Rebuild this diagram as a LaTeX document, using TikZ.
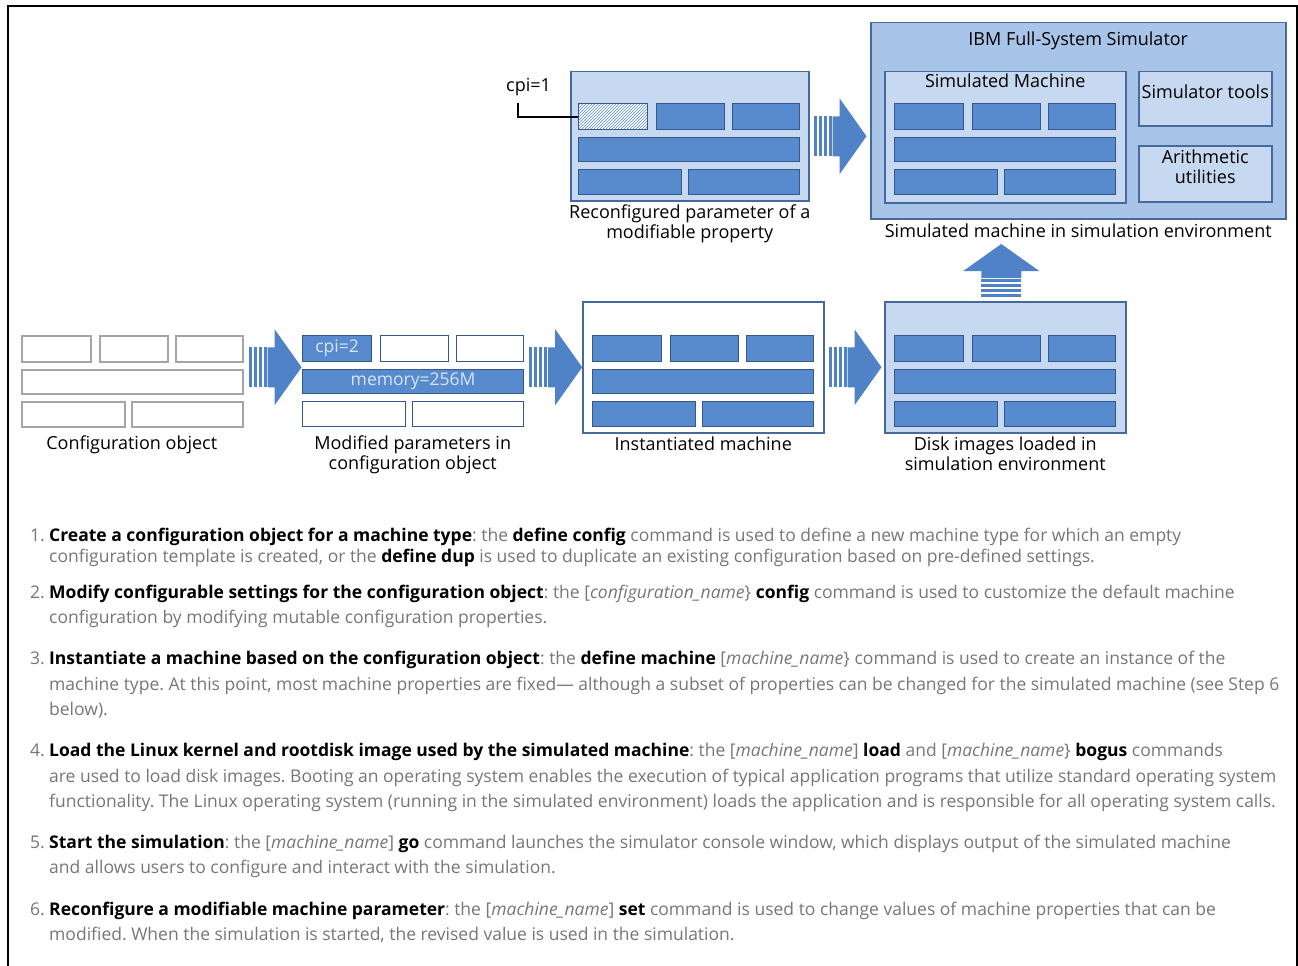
\documentclass[tikz,border=0pt]{standalone}
\usepackage{fontspec}
\setmainfont{Open Sans}
\usepackage{tikz}
\usetikzlibrary{positioning,calc,patterns}
\definecolor{blockblue}{RGB}{88,139,205}
\definecolor{blockline}{RGB}{52,88,140}
\definecolor{boxline}{RGB}{72,105,155}
\definecolor{lightfill}{RGB}{198,217,240}
\definecolor{ibmfill}{RGB}{168,196,232}
\definecolor{arrowblue}{RGB}{80,130,200}
\definecolor{cfggray}{RGB}{165,165,165}
\definecolor{bodygray}{RGB}{118,118,118}
\definecolor{celltext}{RGB}{215,228,245}
\tikzset{
  blk/.style={draw=blockline,fill=blockblue,line width=1.2pt,inner sep=0pt,anchor=north west},
  wblk/.style={blk,fill=white},
  gblk/.style={blk,draw=cfggray,fill=white,line width=1.6pt},
  hblk/.style={draw=blockline,line width=1.2pt,inner sep=0pt,anchor=north west,
    preaction={fill=white},pattern=north east lines,pattern color=blockblue},
  outerbox/.style={draw=boxline,line width=1.5pt,inner sep=0pt,anchor=north west},
  ghost/.style={inner sep=0pt,anchor=north west},
  captxt/.style={font=\fontsize{18}{20}\selectfont,align=center,inner sep=0pt},
  celllbl/.style={font=\fontsize{17.5}{20}\selectfont,text=celltext,inner sep=0pt},
  body/.style={font=\fontsize{17.5}{20}\selectfont,text=bodygray,anchor=base west,inner sep=0pt},
  num/.style={body,anchor=base east},
}
% six cells of a machine: prefix, x, y, then one style per cell
\newcommand{\machineblocks}[9]{%
  \node[#4,minimum width=69,minimum height=26] (#1a) at (#2,#3) {};
  \node[#5,minimum width=68,minimum height=26] (#1b) at (#2+78,#3) {};
  \node[#6,minimum width=67,minimum height=26] (#1c) at (#2+154,#3) {};
  \node[#7,minimum width=221,minimum height=24] (#1d) at (#2,#3+34) {};
  \node[#8,minimum width=103,minimum height=25] (#1e) at (#2,#3+66) {};
  \node[#9,minimum width=111,minimum height=25] (#1f) at (#2+110,#3+66) {};
}
% striped block arrow: start point, rotation
\newcommand{\fatarrow}[2]{%
  \begin{scope}[shift={#1},rotate=#2]
    \foreach \s in {0,5,10,15}
      \fill[arrowblue] (\s,-20) rectangle ++(3,40);
    \fill[arrowblue] (19,-20) -- (26,-20) -- (26,-38) -- (53,0)
      -- (26,38) -- (26,20) -- (19,20) -- cycle;
  \end{scope}}
\newcommand{\cmd}[1]{\textcolor{black}{\bfseries #1}}
\newcommand{\mname}{\textit{machine\_name}}
\frenchspacing

\begin{document}
\begin{tikzpicture}[x=1pt,y=-1pt]
\useasboundingbox (0,0) rectangle (1298,966);
\draw[line width=2.5pt] (8,6) rectangle (1297,980);

% reconfigured machine
\node[outerbox,fill=lightfill,minimum width=238,minimum height=129] (recfg) at (570,71) {};
\machineblocks{r}{578}{103}{hblk}{blk}{blk}{blk}{blk}{blk}
\node[captxt,anchor=base west] (cpi) at (506,92) {cpi=1};
\draw[line width=1.8pt] ([xshift=12pt,yshift=-6pt]cpi.south west) |- (ra.west);
\node[captxt,below=3pt of recfg] {Reconfigured parameter of a\\modifiable property};

% simulator
\node[outerbox,fill=ibmfill,minimum width=415,minimum height=196] (ibm) at (870,22) {};
\node[captxt] (ibmtitle) at ($(ibm.north)+(0,19)$) {IBM Full-System Simulator};
\node[outerbox,fill=lightfill,minimum width=241,minimum height=131] (simm) at (884,71) {};
\node[captxt] (simmtitle) at ($(simm.north)+(0,10)$) {Simulated Machine};
\machineblocks{s}{894}{103}{blk}{blk}{blk}{blk}{blk}{blk}
\node[outerbox,fill=lightfill,minimum width=133,minimum height=54,captxt,text depth=14pt] (tools) at (1138,71) {Simulator tools};
\node[outerbox,fill=lightfill,minimum width=133,minimum height=56,captxt,text depth=14pt] (arith) at (1138,145) {Arithmetic\\utilities};
\node[captxt,below=4pt of ibm] {Simulated machine in simulation environment};

% bottom row
\node[ghost,minimum width=241,minimum height=131] (cfg) at (11,301) {};
\machineblocks{c}{21}{335}{gblk}{gblk}{gblk}{gblk}{gblk}{gblk}
\node[captxt,below=3pt of cfg] {Configuration object};

\node[ghost,minimum width=241,minimum height=131] (mod) at (292,301) {};
\machineblocks{m}{302}{335}{blk}{wblk}{wblk}{blk}{wblk}{wblk}
\node[celllbl] at (ma) {cpi=2};
\node[celllbl] at (md) {memory=256M};
\node[captxt,below=3pt of mod] {Modified parameters in\\configuration object};

\node[outerbox,fill=white,minimum width=241,minimum height=131] (inst) at (582,301) {};
\machineblocks{i}{592}{335}{blk}{blk}{blk}{blk}{blk}{blk}
\node[captxt,below=3pt of inst] {Instantiated machine};

\node[outerbox,fill=lightfill,minimum width=241,minimum height=131] (disk) at (884,301) {};
\machineblocks{d}{894}{335}{blk}{blk}{blk}{blk}{blk}{blk}
\node[captxt,below=3pt of disk] {Disk images loaded in\\simulation environment};

% arrows
\fatarrow{($(cd.east |- inst.west)+(5,0)$)}{0}
\fatarrow{($(md.east |- inst.west)+(5,0)$)}{0}
\fatarrow{($(inst.east)+(4,0)$)}{0}
\fatarrow{($(disk.north)+(-4,-4)$)}{90}
\fatarrow{($(recfg.east)+(4,0)$)}{0}

% steps
\node[num] at (45,541) {1.};
\node[body] at (49,541) {\cmd{Create a configuration object for a machine type}: the \cmd{define config} command is used to define a new machine type for which an empty};
\node[body] at (49,562) {configuration template is created, or the \cmd{define dup} is used to duplicate an existing configuration based on pre-defined settings.};
\node[num] at (45,598) {2.};
\node[body] at (49,598) {\cmd{Modify configurable settings for the configuration object}: the [\textit{configuration\_name}\} \cmd{config} command is used to customize the default machine};
\node[body] at (49,623) {configuration by modifying mutable configuration properties.};
\node[num] at (45,664) {3.};
\node[body] at (49,664) {\cmd{Instantiate a machine based on the configuration object}: the \cmd{define machine} [\mname\} command is used to create an instance of the};
\node[body] at (49,690) {machine type. At this point, most machine properties are fixed— although a subset of properties can be changed for the simulated machine (see Step 6};
\node[body] at (49,715) {below).};
\node[num] at (45,756) {4.};
\node[body] at (49,756) {\cmd{Load the Linux kernel and rootdisk image used by the simulated machine}: the [\mname] \cmd{load} and [\mname\} \cmd{bogus} commands};
\node[body] at (49,782) {are used to load disk images. Booting an operating system enables the execution of typical application programs that utilize standard operating system};
\node[body] at (49,807) {functionality. The Linux operating system (running in the simulated environment) loads the application and is responsible for all operating system calls.};
\node[num] at (45,848) {5.};
\node[body] at (49,848) {\cmd{Start the simulation}: the [\mname] \cmd{go} command launches the simulator console window, which displays output of the simulated machine};
\node[body] at (49,873) {and allows users to configure and interact with the simulation.};
\node[num] at (45,915) {6.};
\node[body] at (49,915) {\cmd{Reconfigure a modifiable machine parameter}: the [\mname] \cmd{set} command is used to change values of machine properties that can be};
\node[body] at (49,940) {modified. When the simulation is started, the revised value is used in the simulation.};
\end{tikzpicture}
\end{document}
